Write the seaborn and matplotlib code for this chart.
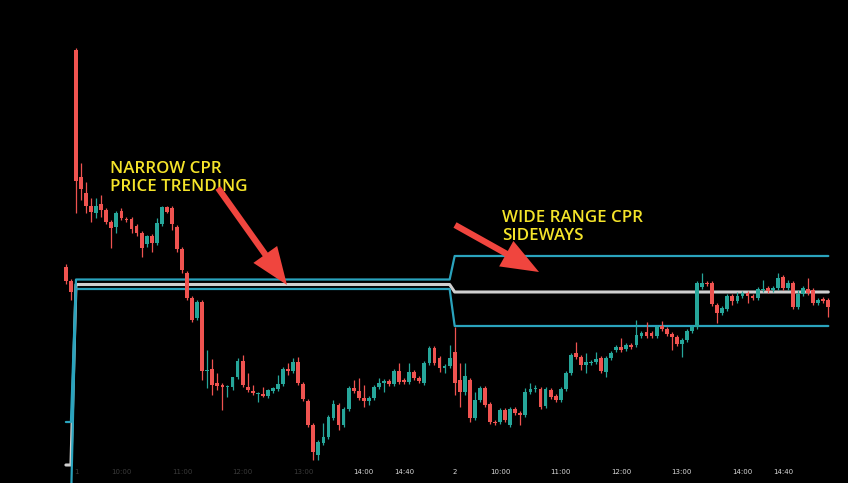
import numpy as np
import pandas as pd
import seaborn as sns
from matplotlib import pyplot as plt

# 5-minute candles, two sessions (2 bars of the prior session first)
opens = [233, 219,
         450, 323, 307, 294, 287, 296, 290, 278, 273, 289, 281, 281, 274, 267, 256, 264, 257, 276, 293, 292,
         273, 251, 227, 202, 182, 198, 129, 131, 117, 115, 113, 113, 123, 139, 113, 109, 106, 106, 104, 109,
         111, 116, 131, 129, 138, 116, 99, 75, 45, 57, 63, 82, 95, 75, 91, 112, 109, 102, 99, 102,
         113, 117, 119, 116, 129, 120, 118, 128, 122, 117, 137, 152, 142, 132, 134,
         148, 120, 108, 120, 82, 100, 112, 96, 78, 78, 90, 75, 91, 87, 85, 108, 111, 111, 94, 110,
         104, 100, 111, 127, 147, 143, 135, 137, 138, 142, 128, 142, 150, 153, 151, 155, 155, 164, 168, 167,
         164, 174, 171, 166, 163, 156, 160, 169, 173, 213, 217, 217, 195, 187, 191, 204, 199, 204, 207, 204,
         202, 210, 212, 210, 212, 223, 212, 217, 193, 206, 211, 210, 197, 201, 200]
highs = [236, 221,
         452, 337, 318, 302, 302, 305, 292, 280, 289, 292, 283, 283, 276, 269, 265, 266, 282, 294, 294, 294,
         275, 253, 229, 204, 200, 200, 150, 141, 127, 117, 115, 123, 142, 145, 127, 115, 108, 113, 111, 113,
         125, 133, 137, 142, 143, 118, 101, 77, 60, 77, 85, 100, 97, 93, 114, 120, 122, 115, 104, 115,
         122, 121, 121, 131, 137, 122, 137, 130, 124, 139, 154, 154, 144, 136, 155,
         173, 137, 137, 122, 108, 114, 114, 98, 80, 92, 92, 93, 93, 89, 112, 117, 115, 113, 113, 112,
         106, 113, 129, 147, 158, 145, 147, 140, 148, 144, 144, 149, 155, 162, 157, 157, 180, 169, 178, 169,
         175, 179, 173, 168, 165, 162, 171, 175, 219, 227, 219, 219, 197, 194, 206, 206, 208, 209, 209, 206,
         213, 220, 214, 214, 227, 225, 220, 219, 210, 214, 222, 212, 202, 203, 202]
lows = [216, 200,
        287, 300, 287, 278, 282, 283, 276, 252, 267, 280, 278, 267, 264, 243, 253, 248, 255, 274, 287, 270,
        248, 227, 200, 178, 180, 120, 112, 105, 110, 90, 103, 110, 121, 113, 108, 105, 98, 103, 102, 107,
        109, 114, 125, 127, 115, 99, 73, 40, 40, 55, 61, 80, 70, 73, 89, 107, 100, 93, 95, 100,
        111, 108, 114, 114, 116, 116, 116, 120, 117, 115, 135, 135, 128, 127, 132,
        105, 93, 105, 78, 80, 98, 93, 76, 75, 76, 78, 73, 85, 75, 83, 106, 108, 91, 92, 101,
        98, 98, 109, 125, 141, 130, 127, 135, 136, 127, 123, 140, 148, 148, 149, 151, 153, 162, 162, 162,
        162, 169, 164, 150, 154, 143, 158, 167, 171, 211, 214, 194, 177, 185, 189, 195, 197, 202, 197, 200,
        200, 208, 207, 208, 210, 210, 210, 191, 191, 204, 205, 195, 195, 197, 183]
closes = [219, 208,
          319, 311, 294, 288, 294, 290, 278, 272, 287, 282, 280, 271, 267, 252, 264, 257, 277, 293, 288, 276,
          251, 230, 202, 180, 198, 129, 130, 115, 114, 113, 114, 123, 139, 115, 110, 107, 107, 104, 110, 112,
          116, 131, 129, 138, 117, 101, 75, 48, 58, 63, 83, 96, 75, 91, 112, 109, 102, 99, 102, 113,
          117, 119, 116, 129, 118, 118, 128, 122, 119, 137, 152, 137, 132, 134, 142,
          117, 108, 124, 82, 100, 112, 95, 78, 77, 90, 80, 91, 87, 85, 108, 111, 112, 93, 111, 103,
          100, 111, 127, 145, 143, 135, 138, 138, 141, 129, 142, 147, 153, 150, 155, 153, 165, 167, 164, 164,
          173, 171, 166, 163, 156, 160, 169, 173, 217, 217, 216, 196, 187, 192, 204, 199, 204, 207, 204, 202,
          211, 211, 209, 212, 222, 212, 217, 193, 206, 212, 207, 197, 200, 199, 193]

# central pivot range per session: prior, day 1, day 2
cpr_tc = [78, 220.5, 244]
cpr_pivot = [35, 215.5, 208]
cpr_bc = [-5, 211, 174]
session_bars = [2, 75, 75]

tick_pos = [0, 9, 21, 33, 45, 57, 65, 75, 84, 96, 108, 120, 132, 140]
tick_text = ['1', '10:00', '11:00', '12:00', '13:00', '14:00', '14:40', '2',
             '10:00', '11:00', '12:00', '13:00', '14:00', '14:40']
n_dim = 5

UP = '#26a69a'
DOWN = '#ef5350'
CPR_C = '#2aa3bd'

bars = pd.DataFrame({'open': opens, 'high': highs, 'low': lows, 'close': closes})
bars['idx'] = np.arange(len(bars)) - session_bars[0]
bars['color'] = np.where(bars['close'] >= bars['open'], UP, DOWN)

cpr = pd.DataFrame({
    'idx': bars['idx'],
    'tc': np.repeat(cpr_tc, session_bars),
    'pivot': np.repeat(cpr_pivot, session_bars),
    'bc': np.repeat(cpr_bc, session_bars),
})

sns.set_style('dark')
fig = plt.figure(figsize=(8.48, 4.83), dpi=100, facecolor='black')
ax = fig.add_axes([0, 0, 1, 1])
ax.set_facecolor('black')

sns.lineplot(data=cpr, x='idx', y='pivot', ax=ax, color='#d0d0d0', linewidth=2.2, zorder=2)
sns.lineplot(data=cpr, x='idx', y='tc', ax=ax, color=CPR_C, linewidth=1.6, zorder=2)
sns.lineplot(data=cpr, x='idx', y='bc', ax=ax, color=CPR_C, linewidth=1.6, zorder=2)

ax.vlines(bars['idx'], bars['low'], bars['high'], colors=bars['color'], linewidth=0.9, zorder=3)
body = (bars['close'] - bars['open']).abs().clip(lower=1.2)
ax.bar(bars['idx'], body, bottom=bars[['open', 'close']].min(axis=1), width=0.75,
       color=bars['color'], linewidth=0, zorder=4)

ax.set_xlim(-15.05, 152.9)
ax.set_ylim(17, 500)
ax.set_xlabel('')
ax.set_ylabel('')
ax.set_yticks([])
ax.set_xticks(tick_pos)
ax.set_xticklabels(tick_text)
ax.tick_params(axis='x', direction='in', pad=-10, length=0, labelsize=5, labelcolor='#d8d8d8')
for lab in ax.get_xticklabels()[:n_dim]:
    lab.set_color('#3a3a3a')
ax.grid(False)
for s in ax.spines.values():
    s.set_visible(False)

txt = dict(color='#f5e42a', fontsize=12.2, fontweight='semibold', family=['Open Sans', 'DejaVu Sans'],
           transform=ax.transAxes, va='top', ha='left', linespacing=1.13)
ax.text(110 / 848, 1 - 161 / 483, 'NARROW CPR\nPRICE TRENDING', **txt)
ax.text(502 / 848, 1 - 210 / 483, 'WIDE RANGE CPR\nSIDEWAYS', **txt)

arrow = dict(arrowstyle='simple,head_length=27,head_width=21,tail_width=4.5',
             mutation_scale=1, color='#f0453e', lw=0, shrinkA=0, shrinkB=0)
ax.annotate('', xy=(287 / 848, 1 - 285 / 483), xytext=(218 / 848, 1 - 188 / 483),
            xycoords='axes fraction', textcoords='axes fraction', arrowprops=arrow)
ax.annotate('', xy=(539 / 848, 1 - 272 / 483), xytext=(455 / 848, 1 - 225 / 483),
            xycoords='axes fraction', textcoords='axes fraction', arrowprops=arrow)

fig.savefig('out.png', dpi=100, facecolor='black')
